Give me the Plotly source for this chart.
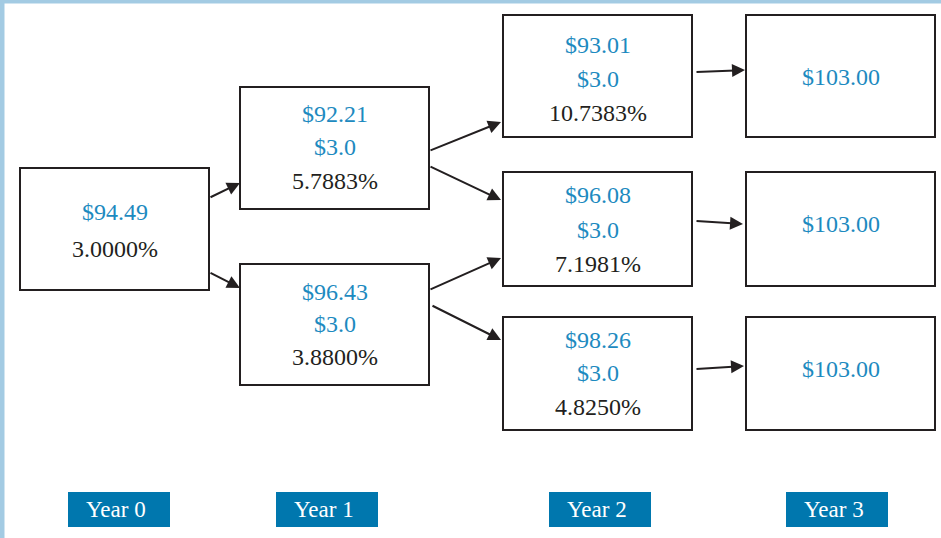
import plotly.graph_objects as go

# ---------------- data ----------------
years = ["Year 0", "Year 1", "Year 2", "Year 3"]
node_prices = [["$94.49"], ["$92.21", "$96.43"], ["$93.01", "$96.08", "$98.26"], ["$103.00", "$103.00", "$103.00"]]
node_coupons = [[None], ["$3.0", "$3.0"], ["$3.0", "$3.0", "$3.0"], [None, None, None]]
node_rates = [["3.0000%"], ["5.7883%", "3.8800%"], ["10.7383%", "7.1981%", "4.8250%"], [None, None, None]]

# ---------------- layout (pixel geometry) ----------------
W, H = 941, 538
col_x = [(20, 209), (240, 429), (503, 692), (746, 935)]
box_y = [[(168, 290)], [(87, 209), (264, 385)],
         [(15, 137), (172, 286), (317, 430)], [(15, 137), (172, 286), (317, 430)]]
# text line y positions inside each box
text_y = [[(212, 249)], [(114, 147, 181), (292, 324, 357)],
          [(45, 79, 113), (195, 230, 264), (340, 373, 407)], [(77,), (224,), (369,)]]
label_x = [(68, 170), (276, 378), (549, 651), (786, 888)]
label_y = (492, 527)
# arrow endpoints per edge (start, end)
edge_pts = [((209, 198), (240, 183)), ((209, 272), (240, 288)),
            ((429, 151), (501, 122)), ((429, 166), (501, 200)),
            ((429, 290), (501, 258)), ((431, 305), (501, 340)),
            ((695, 72), (745, 70)), ((695, 221), (743, 224)), ((695, 369), (744, 366))]

BLUE_TXT = "#1D8AC0"
DARK = "#231F20"
LABEL_BG = "#0077AE"
FONT = "Liberation Serif, Times New Roman, DejaVu Serif, serif"
FS = 24

fig = go.Figure()
shapes = []
annotations = []

# decorative border (top & left)
shapes.append(dict(type="rect", xref="x", yref="y", x0=0, x1=W, y0=0, y1=3.5,
                   fillcolor="#A3CBE3", line=dict(width=0), layer="below"))
shapes.append(dict(type="rect", xref="x", yref="y", x0=0, x1=4.5, y0=0, y1=H,
                   fillcolor="#A3CBE3", line=dict(width=0), layer="below"))

for c in range(len(years)):
    x0, x1 = col_x[c]
    cx = (x0 + x1) / 2
    for r, (y0, y1) in enumerate(box_y[c]):
        shapes.append(dict(type="rect", xref="x", yref="y", x0=x0, x1=x1, y0=y0, y1=y1,
                           line=dict(color=DARK, width=2), fillcolor="white"))
        lines = [(node_prices[c][r], BLUE_TXT), (node_coupons[c][r], BLUE_TXT), (node_rates[c][r], DARK)]
        lines = [l for l in lines if l[0] is not None]
        for (t, col), ty in zip(lines, text_y[c][r]):
            annotations.append(dict(x=cx, y=ty, xref="x", yref="y", text=t, showarrow=False,
                                    font=dict(family=FONT, size=FS, color=col),
                                    xanchor="center", yanchor="middle"))
    # year label
    lx0, lx1 = label_x[c]
    shapes.append(dict(type="rect", xref="x", yref="y", x0=lx0, x1=lx1, y0=label_y[0], y1=label_y[1],
                       fillcolor=LABEL_BG, line=dict(width=0)))
    annotations.append(dict(x=(lx0 + lx1) / 2 - 3, y=(label_y[0] + label_y[1]) / 2, xref="x", yref="y",
                            text=years[c], showarrow=False,
                            font=dict(family=FONT, size=23, color="white"),
                            xanchor="center", yanchor="middle"))

for (s, e) in edge_pts:
    annotations.append(dict(x=e[0], y=e[1], ax=s[0], ay=s[1], xref="x", yref="y",
                            axref="x", ayref="y", text="", showarrow=True,
                            arrowhead=2, arrowsize=1.3, arrowwidth=2, arrowcolor=DARK,
                            standoff=0, startstandoff=0))

fig.update_layout(
    width=W, height=H, margin=dict(l=0, r=0, t=0, b=0),
    paper_bgcolor="white", plot_bgcolor="white",
    xaxis=dict(range=[0, W], visible=False, fixedrange=True),
    yaxis=dict(range=[H, 0], visible=False, fixedrange=True),
    shapes=shapes, annotations=annotations, showlegend=False,
)
fig.write_html("out.html", config={"displayModeBar": False},
               post_script="document.body.style.margin='0';document.body.style.overflow='hidden';")
